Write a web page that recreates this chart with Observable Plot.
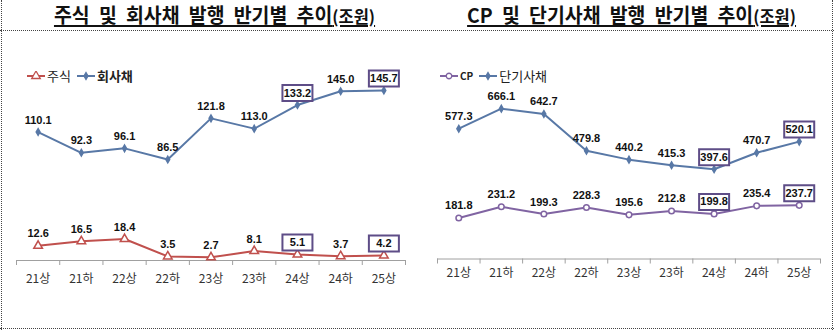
<!DOCTYPE html>
<html><head><meta charset="utf-8">
<script src="https://cdn.jsdelivr.net/npm/d3@7"></script>
<script src="https://cdn.jsdelivr.net/npm/@observablehq/plot@0.6"></script>
<style>
body{margin:0;background:#fff;}
#wrap{position:relative;width:834px;height:330px;overflow:hidden;font-family:"Noto Sans CJK KR","Noto Sans",sans-serif;background:#fff;}
.title{position:absolute;top:2px;width:417px;text-align:center;white-space:nowrap;}
.title span.t{display:inline-block;font-size:20px;font-weight:bold;color:#111;transform:scaleX(0.97);transform-origin:center;word-spacing:5px;text-decoration:underline;text-decoration-thickness:2px;text-underline-offset:2px;line-height:26px;}
.title span.u{font-size:17px;}
.hline{position:absolute;left:0;width:834px;height:0;border-top:1px dotted #444;}
.vline{position:absolute;top:0;width:0;height:330px;border-left:1px dotted #444;}
.panel{position:absolute;top:30px;}
.legend{position:absolute;display:flex;align-items:center;font-size:13px;color:#222;white-space:nowrap;}
.legend svg{display:block;}
.legend .lab{margin:0 6px 0 2px;}
</style></head><body><div id="wrap">
<div class="title" style="left:6px"><span class="t">주식 및 회사채 발행 반기별 추이<span class="u">(조원)</span></span></div>
<div class="title" style="left:423px"><span class="t">CP 및 단기사채 발행 반기별 추이<span class="u">(조원)</span></span></div>
<div class="hline" style="top:30px"></div>
<div class="hline" style="top:328px"></div>
<div class="vline" style="left:1px"></div>
<div class="vline" style="left:832px"></div>
<div class="panel" id="left" style="left:0px"></div>
<div class="panel" id="right" style="left:417px"></div>
<div class="legend" id="legL" style="left:27px;top:66px"></div>
<div class="legend" id="legR" style="left:440px;top:66px"></div>
</div>
<script>
// ---- data ----
const categories = ["21상","21하","22상","22하","23상","23하","24상","24하","25상"];
const stocks     = [12.6, 16.5, 18.4, 3.5, 2.7, 8.1, 5.1, 3.7, 4.2];          // 주식
const corpBonds  = [110.1, 92.3, 96.1, 86.5, 121.8, 113.0, 133.2, 145.0, 145.7]; // 회사채
const cp         = [181.8, 231.2, 199.3, 228.3, 195.6, 212.8, 199.8, 235.4, 237.7]; // CP
const shortBonds = [577.3, 666.1, 642.7, 479.8, 440.2, 415.3, 397.6, 470.7, 520.1]; // 단기사채
const highlighted = ["24상", "25상"];

const boxSymbol = {draw(ctx){ ctx.moveTo(-15,-8); ctx.lineTo(15,-8); ctx.lineTo(15,8); ctx.lineTo(-15,8); ctx.closePath(); }};

function rowsOf(name, values){ return categories.map((c,i)=>({i, cat:c, value:values[i], series:name})); }

function chart({series, yMax, mL, mR, mT, mB, tickPad}){
  const marks = [
    Plot.ruleY([0], {stroke:"#a0a0a0"}),
    Plot.axisX(d3.range(-0.5, categories.length, 1), {tickSize:5, tickFormat:()=>"", stroke:"#a0a0a0", label:null}),
    Plot.axisX(d3.range(categories.length), {tickSize:0, tickPadding:tickPad, tickFormat:i=>categories[i], fontSize:12, fill:"#333", label:null})
  ];
  for (const s of series){
    const rows = rowsOf(s.name, s.values);
    marks.push(Plot.line(rows, {x:"i", y:"value", stroke:s.color, strokeWidth:2}));
    marks.push(Plot.dot(rows, {x:"i", y:"value", symbol:s.symbol, r:s.r, stroke:s.color, fill:s.fill, strokeWidth:1.5}));
    marks.push(Plot.dot(rows.filter(d=>highlighted.includes(d.cat)), {x:"i", y:"value", dy:-12, symbol:boxSymbol, stroke:"#5e4d87", strokeWidth:2, fill:"white"}));
    marks.push(Plot.text(rows, {x:"i", y:"value", dy:-12, text:d=>d.value.toFixed(1), fontSize:11, fontWeight:"bold", fill:"#111", fontFamily:"Liberation Sans, Arial, sans-serif"}));
  }
  return Plot.plot({
    width:417, height:300, marginLeft:mL, marginRight:mR, marginTop:mT, marginBottom:mB,
    style:{background:"transparent", fontFamily:"Noto Sans CJK KR, sans-serif"},
    x:{domain:[-0.5, categories.length-0.5], axis:null, label:null},
    y:{domain:[0,yMax], axis:null, label:null},
    marks
  });
}

const red = "#c0504d", blue = "#5878a6", purple = "#8064a2";

document.getElementById("left").appendChild(chart({
  yMax:160, mL:16, mR:12, mT:43.3, mB:70, tickPad:14,
  series:[
    {name:"회사채", values:corpBonds, color:blue, symbol:"diamond", r:2, fill:blue},
    {name:"주식", values:stocks, color:red, symbol:"triangle", r:3.2, fill:"white"}
  ]
}));
document.getElementById("right").appendChild(chart({
  yMax:700, mL:20, mR:14, mT:70.5, mB:71.5, tickPad:9,
  series:[
    {name:"단기사채", values:shortBonds, color:blue, symbol:"diamond", r:2, fill:blue},
    {name:"CP", values:cp, color:purple, symbol:"circle", r:2.8, fill:"white"}
  ]
}));

function icon(color, symbol, fill){
  const sym = d3.symbol(symbol, symbol===d3.symbolTriangle?32:(symbol===d3.symbolCircle?24:14))();
  return `<svg width="18" height="10"><line x1="0" y1="5" x2="18" y2="5" stroke="${color}" stroke-width="2"/><path d="${sym}" transform="translate(9,5)" fill="${fill}" stroke="${color}" stroke-width="1.3"/></svg>`;
}
document.getElementById("legL").innerHTML =
  icon(red, d3.symbolTriangle, "white") + `<span class="lab">주식</span>` +
  icon(blue, d3.symbolDiamond, blue) + `<span class="lab" style="font-weight:bold">회사채</span>`;
document.getElementById("legR").innerHTML =
  icon(purple, d3.symbolCircle, "white") + `<span class="lab" style="font-size:10px;font-weight:bold">CP</span>` +
  icon(blue, d3.symbolDiamond, blue) + `<span class="lab">단기사채</span>`;
</script>
</body></html>
